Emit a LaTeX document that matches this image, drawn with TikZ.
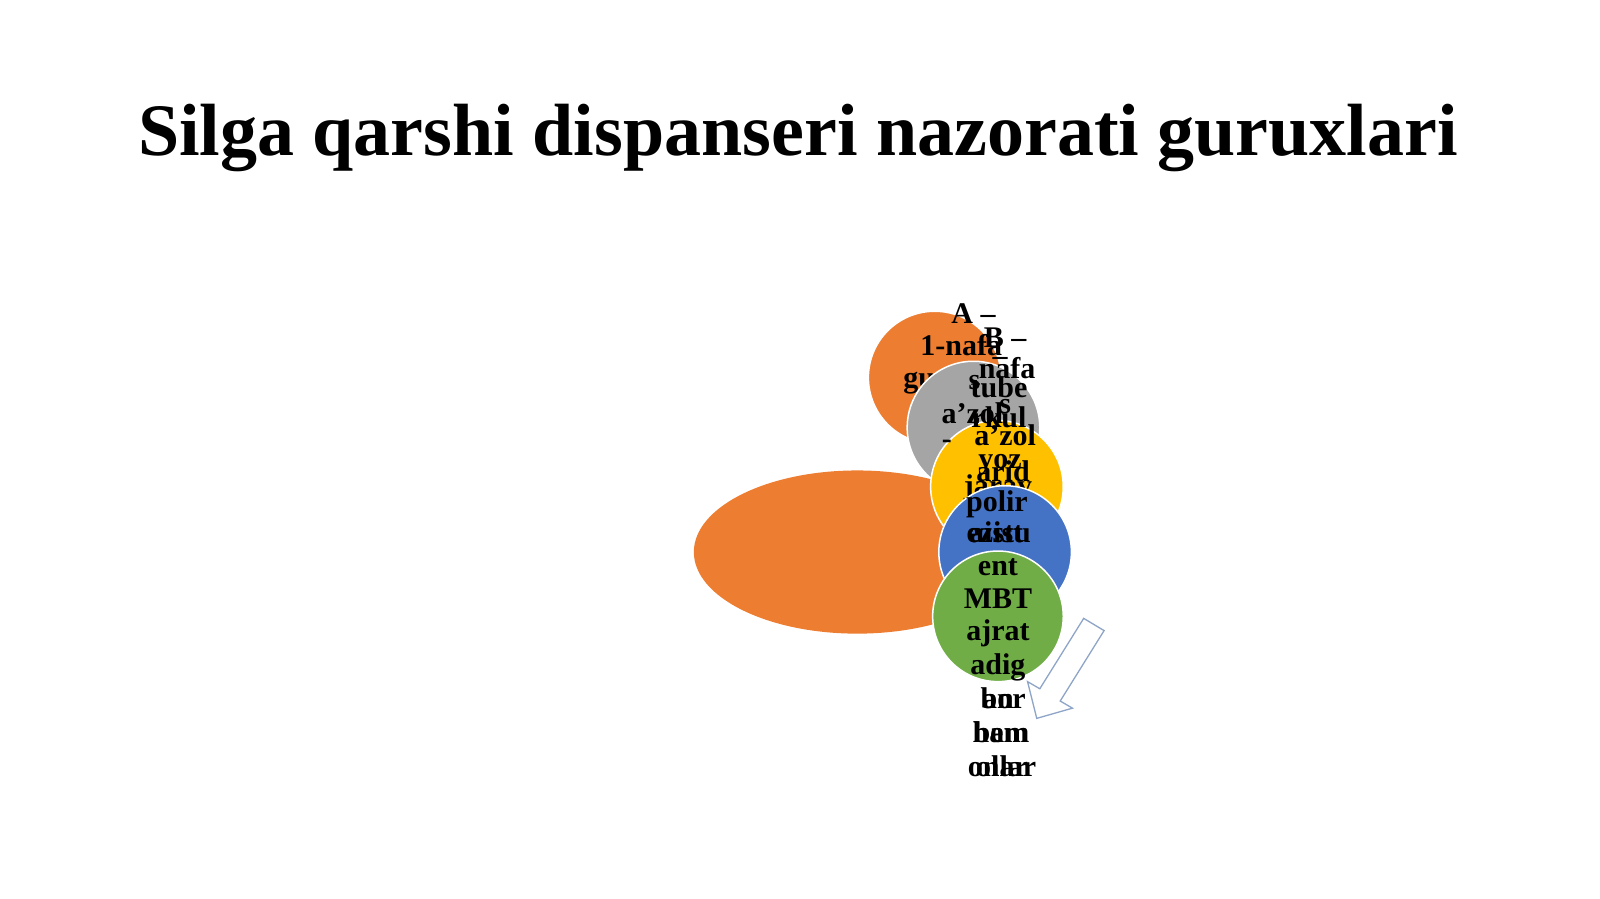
\documentclass[tikz,border=0pt]{standalone}
\usepackage{fontspec}
\setmainfont{Liberation Serif}
\definecolor{cOrange}{HTML}{ED7D31}
\definecolor{cGray}{HTML}{A5A5A5}
\definecolor{cYellow}{HTML}{FFC000}
\definecolor{cBlue}{HTML}{4472C4}
\definecolor{cGreen}{HTML}{70AD47}
\definecolor{cArrow}{HTML}{8EA5C8}
\begin{document}
\begin{tikzpicture}[x=1.0204pt,y=-1.0204pt,
  blob/.style={draw=white,line width=1.5pt},
  lbl/.style={anchor=base,inner sep=0pt,font=\fontsize{30}{33}\selectfont\bfseries},
  ttl/.style={anchor=base,inner sep=0pt,font=\fontsize{74}{80}\selectfont\bfseries}]
\useasboundingbox (0,0) rectangle (1568,881);
\node[ttl] (title) at (782,152) {Silga qarshi dispanseri nazorati guruxlari};
% big ellipse
\fill[cOrange] (840,541) ellipse [x radius=163.3pt, y radius=81.6pt];
% orange circle
\path[fill=cOrange,blob] (916,370) circle [radius=66.3pt];
\node[lbl,anchor=base west] (o3) at (885,380) {guruh};
% gray circle
\path[fill=cGray,blob] (954,419) circle [radius=66.3pt];
% yellow circle
\path[fill=cYellow,blob] (977,477) circle [radius=66.3pt];
\node[lbl] (y4) at (978,486) {jaray};
% blue circle
\path[fill=cBlue,blob] (985,541) circle [radius=66.3pt];
% green circle
\path[fill=cGreen,blob] (978,604) circle [radius=65.3pt];
% texts
\node[lbl] (o1) at (954,317) {A –};
\node[lbl] (o2) at (942,348) {1-nafa};
\node[lbl] (o4) at (955,382) {s};
\node[lbl] (o5) at (953,415) {a’zol};
\node[lbl] (o6) at (928,440) {-};
\node[lbl] (g1) at (985,341) {B –};
\node[lbl] (g2) at (980,358) {–};
\node[lbl] (g3) at (987,371) {nafa};
\node[lbl] (g4) at (985,405) {s};
\node[lbl] (g5) at (985,437) {a’zol};
\node[lbl] (g6) at (983,472) {arid};
\node[lbl] (y1) at (979,390) {tube};
\node[lbl] (y2) at (979,419) {rkul};
\node[lbl] (y3) at (980,459) {yoz};
\node[lbl] (b1) at (977,501) {polir};
\node[lbl] (b2) at (975,532) {ezist};
\node[lbl] (b3) at (980,532) {aistu};
\node[lbl] (n1) at (978,564) {ent};
\node[lbl] (n2) at (978,596) {MBT};
\node[lbl] (n3) at (978,628) {ajrat};
\node[lbl] (n4) at (978,661) {adig};
\node[lbl] (n5) at (978,694) {an};
\node[lbl] (n6) at (983,694) {bor};
\node[lbl] (n7) at (981,728) {bem};
\node[lbl] (n8) at (981,728) {ham};
\node[lbl] (n9) at (982,761) {onlar};
\node[lbl] (n10) at (982,761) {olar};
% hollow arrow
\draw[cArrow,fill=white,line width=1.3pt,line join=miter]
  (1062,606) -- (1082,618) -- (1039,687) -- (1051,694) -- (1016,704)
  -- (1007,668) -- (1019,675) -- cycle;
\end{tikzpicture}
\end{document}
